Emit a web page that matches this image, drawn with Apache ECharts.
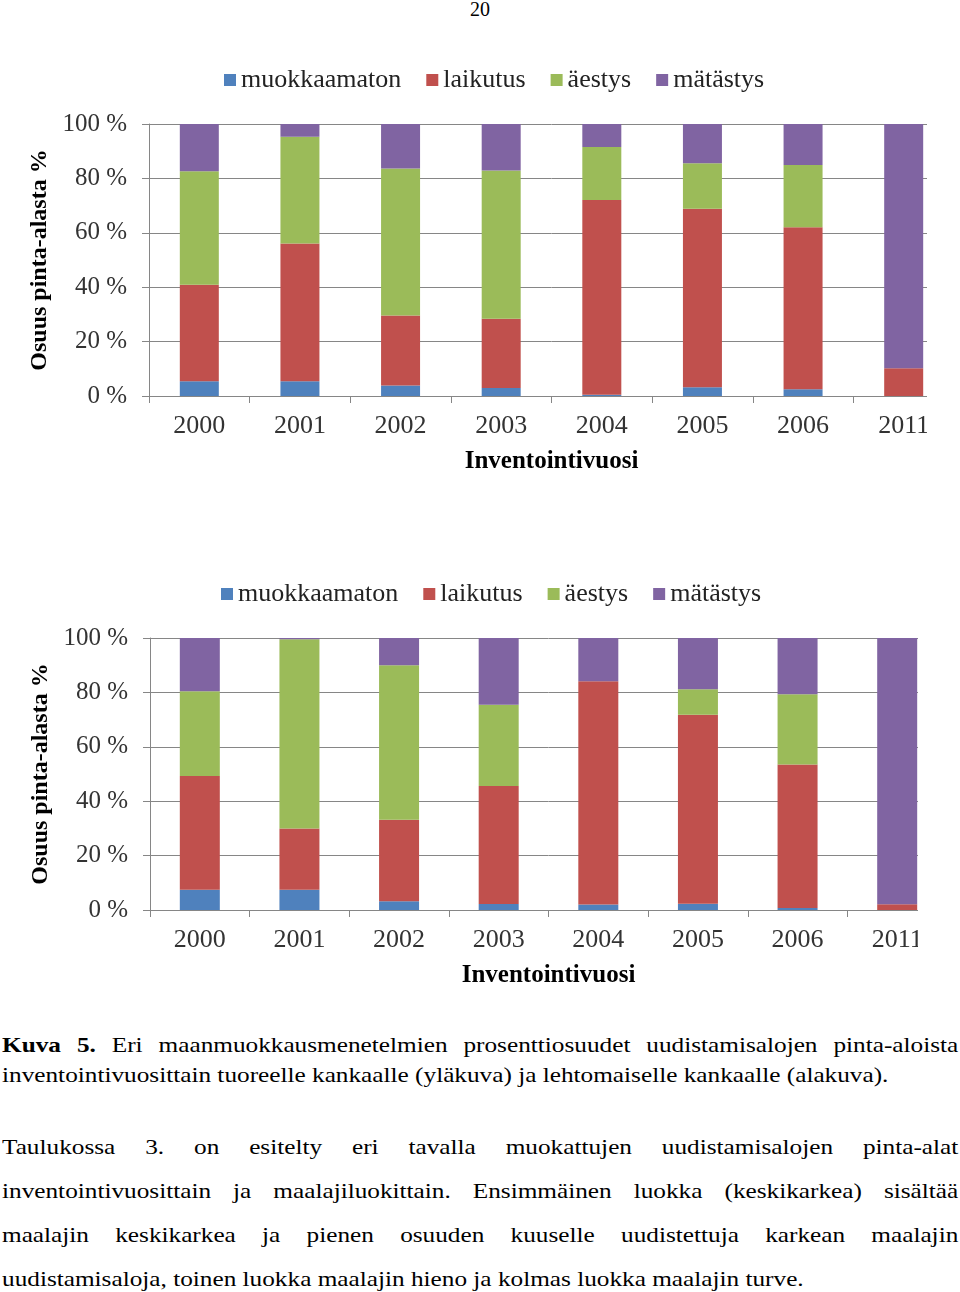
<!DOCTYPE html>
<html>
<head>
<meta charset="utf-8">
<script src="https://cdn.jsdelivr.net/npm/echarts@6/dist/echarts.min.js"></script>
<style>
  html, body { margin:0; padding:0; background:#fff; }
  body { width:960px; height:1292px; position:relative; overflow:hidden; font-family:'Liberation Serif','Times New Roman',serif; color:#000; }
  .wrap { position:absolute; overflow:hidden; }
  .chart { position:absolute; left:0; top:0; }
  .line { position:absolute; left:2px; width:833px; white-space:nowrap; transform:scaleX(1.148); transform-origin:0 0; }
  .just { text-align:justify; text-align-last:justify; white-space:normal; }
  #pnum { position:absolute; left:0; width:960px; top:-2px; text-align:center; font-size:20px; }
  .cap { font-size:22px; line-height:30px; }
  .par { font-size:22px; line-height:44px; }
</style>
</head>
<body>
<div id="pnum">20</div>
<div class="wrap" style="left:0;top:40px;width:927px;height:430px;"><div id="c1" class="chart" style="width:960px;height:430px;"></div></div>
<div class="wrap" style="left:0;top:555px;width:918px;height:428px;"><div id="c2" class="chart" style="width:960px;height:428px;"></div></div>

<div class="line just cap" style="top:1030px;"><b>Kuva 5.</b> Eri maanmuokkausmenetelmien prosenttiosuudet uudistamisalojen pinta-aloista</div>
<div class="line cap" style="top:1060px;">inventointivuosittain tuoreelle kankaalle (yläkuva) ja lehtomaiselle kankaalle (alakuva).</div>

<div class="line just par" style="top:1125px;">Taulukossa 3. on esitelty eri tavalla muokattujen uudistamisalojen pinta-alat</div>
<div class="line just par" style="top:1169px;">inventointivuosittain ja maalajiluokittain. Ensimmäinen luokka (keskikarkea) sisältää</div>
<div class="line just par" style="top:1213px;">maalajin keskikarkea ja pienen osuuden kuuselle uudistettuja karkean maalajin</div>
<div class="line par" style="top:1257px;">uudistamisaloja, toinen luokka maalajin hieno ja kolmas luokka maalajin turve.</div>

<script>
const years = ['2000','2001','2002','2003','2004','2005','2006','2011'];
const seriesNames = ['muokkaamaton','laikutus','äestys','mätästys'];
const colors = ['#4F81BD','#C0504D','#9BBB59','#8064A2'];
const yTicks = [0,20,40,60,80,100];

// Upper chart (tuore kangas)
const muokkaamaton1 = [5.4, 5.4, 3.9, 2.9, 0.5, 3.2, 2.5, 0];
const laikutus1     = [35.5, 50.7, 25.7, 25.5, 71.6, 65.6, 59.5, 10.2];
const aestys1       = [41.7, 39.2, 54.0, 54.5, 19.4, 16.8, 22.9, 0];
const matastys1     = [17.4, 4.7, 16.4, 17.1, 8.5, 14.4, 15.1, 89.8];

// Lower chart (lehtomainen kangas)
const muokkaamaton2 = [7.4, 7.4, 3.2, 2.2, 2.0, 2.3, 0.7, 0];
const laikutus2     = [41.9, 22.6, 30.0, 43.4, 82.1, 69.5, 52.8, 2.1];
const aestys2       = [31.1, 69.5, 56.8, 29.9, 0, 9.4, 25.8, 0];
const matastys2     = [19.6, 0.5, 10.0, 24.5, 15.9, 18.8, 20.7, 97.9];

const FONT = "'Liberation Serif','Times New Roman',serif";
const GRAY = '#868686';

function makeOption(data, g, legendLeft, legendTop, barW) {
  return {
    animation: false,
    color: colors,
    legend: {
      left: legendLeft, top: legendTop,
      itemWidth: 12, itemHeight: 12, itemGap: 25,
      icon: 'rect',
      textStyle: { fontFamily: FONT, fontSize: 26, color: '#222' },
      data: seriesNames
    },
    grid: Object.assign({ containLabel: false, outerBoundsMode: 'none' }, g),
    xAxis: {
      type: 'category', data: years,
      axisLine: { lineStyle: { color: GRAY } },
      axisTick: { show: true, interval: 0, length: 7, lineStyle: { color: GRAY } },
      axisLabel: { fontFamily: FONT, fontSize: 26, color: '#333', margin: 17, interval: 0 },
      name: 'Inventointivuosi', nameLocation: 'middle', nameGap: 53,
      nameTextStyle: { fontFamily: FONT, fontSize: 25, fontWeight: 'bold', color: '#000' }
    },
    yAxis: {
      type: 'value', min: 0, max: 100, interval: 20,
      axisLine: { show: true, lineStyle: { color: GRAY } },
      axisTick: { show: true, length: 7, lineStyle: { color: GRAY } },
      splitLine: { lineStyle: { color: GRAY } },
      axisLabel: { fontFamily: FONT, fontSize: 25, color: '#333', margin: 22, formatter: '{value} %' },
      name: 'Osuus pinta-alasta %', nameLocation: 'middle', nameGap: 88,
      nameTextStyle: { fontFamily: FONT, fontSize: 24, fontWeight: 'bold', color: '#000' }
    },
    series: data.map((d, i) => ({
      name: seriesNames[i], type: 'bar', stack: 'all', data: d, barWidth: barW,
      itemStyle: { color: colors[i] }
    }))
  };
}

const c1 = echarts.init(document.getElementById('c1'), null, { renderer: 'canvas' });
c1.setOption(makeOption([muokkaamaton1, laikutus1, aestys1, matastys1],
  { left: 149, right: 6, top: 84, bottom: 74 }, 219, 22, 39));

const c2 = echarts.init(document.getElementById('c2'), null, { renderer: 'canvas' });
c2.setOption(makeOption([muokkaamaton2, laikutus2, aestys2, matastys2],
  { left: 150, right: 13, top: 83, bottom: 73 }, 216, 21, 40));
</script>
</body>
</html>
